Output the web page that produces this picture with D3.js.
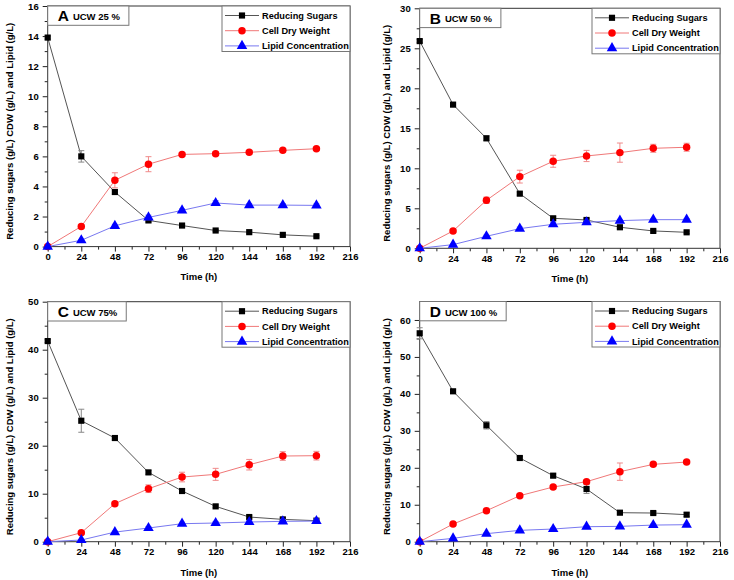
<!DOCTYPE html>
<html><head><meta charset="utf-8">
<script src="https://cdn.jsdelivr.net/npm/d3@7"></script>
<style>
body{margin:0;background:#fff}
text{font-family:"Liberation Sans",Arial,sans-serif;font-weight:bold;fill:#000}
</style>
</head><body>
<svg id="chart" width="734" height="580"></svg>
<script>
// ---------- data ----------
const times = [0, 24, 48, 72, 96, 120, 144, 168, 192];
const xTickValues = [0, 24, 48, 72, 96, 120, 144, 168, 192, 216];
const seriesNames = ["Reducing Sugars", "Cell Dry Weight", "Lipid Concentration"];
const panelLetters = ["A", "B", "C", "D"];
const panelTitles = ["UCW 25 %", "UCW 50 %", "UCW 75%", "UCW 100 %"];
const yMaxes = [16, 30, 50, 65];
const yTickSteps = [2, 5, 10, 10];
const yTickLast = [16, 30, 50, 60];
const yTitle = "Reducing sugars (g/L) CDW (g/L) and Lipid (g/L)";
const xTitle = "Time (h)";

const sugarsA = [13.9, 6.0, 3.63, 1.74, 1.40, 1.07, 0.96, 0.78, 0.69];
const sugarsErrA = [0.1, 0.38, 0.15, 0.1, 0.08, 0.06, 0.06, 0.05, 0.05];
const cdwA = [0, 1.34, 4.41, 5.48, 6.13, 6.18, 6.27, 6.40, 6.51];
const cdwErrA = [0, 0.1, 0.5, 0.5, 0.1, 0.1, 0.1, 0.1, 0.1];
const lipidA = [0, 0.42, 1.38, 1.94, 2.41, 2.90, 2.76, 2.76, 2.74];
const lipidErrA = [0, 0.05, 0.1, 0.15, 0.1, 0.15, 0.1, 0.1, 0.1];

const sugarsB = [25.9, 17.96, 13.75, 6.83, 3.75, 3.54, 2.63, 2.17, 2.0];
const sugarsErrB = [0.2, 0.2, 0.3, 0.2, 0.2, 0.2, 0.2, 0.15, 0.15];
const cdwB = [0, 2.17, 6.0, 8.96, 10.88, 11.54, 11.96, 12.5, 12.63];
const cdwErrB = [0, 0.2, 0.4, 0.8, 0.75, 0.7, 1.2, 0.5, 0.5];
const lipidB = [0, 0.46, 1.5, 2.46, 3.0, 3.25, 3.46, 3.58, 3.58];
const lipidErrB = [0, 0.1, 0.15, 0.2, 0.2, 0.2, 0.15, 0.15, 0.15];

const sugarsC = [41.8, 25.2, 21.6, 14.44, 10.56, 7.36, 5.14, 4.65, 4.38];
const sugarsErrC = [0.3, 2.4, 0.4, 0.4, 0.3, 0.3, 0.3, 0.3, 0.3];
const cdwC = [0, 1.88, 7.92, 11.04, 13.47, 14.03, 16.04, 17.85, 17.92];
const cdwErrC = [0, 0.2, 0.4, 0.8, 1.0, 1.25, 1.1, 0.9, 0.9];
const lipidC = [0, 0.35, 2.0, 2.85, 3.75, 3.89, 4.1, 4.24, 4.3];
const lipidErrC = [0, 0.1, 0.2, 0.3, 0.3, 0.3, 0.3, 0.4, 0.4];

const sugarsD = [56.4, 40.7, 31.5, 22.65, 17.87, 14.26, 7.85, 7.76, 7.31];
const sugarsErrD = [1.5, 0.5, 1.0, 0.4, 0.5, 1.2, 0.4, 0.4, 0.5];
const cdwD = [0, 4.78, 8.39, 12.45, 14.8, 16.24, 18.95, 20.93, 21.56];
const cdwErrD = [0, 0.3, 0.3, 0.3, 0.3, 0.4, 2.35, 0.4, 0.4];
const lipidD = [0, 0.9, 2.17, 3.07, 3.43, 4.06, 4.15, 4.5, 4.6];
const lipidErrD = [0, 0.2, 0.3, 0.3, 0.3, 0.3, 0.3, 0.3, 0.3];

const panelSeries = [
  [[sugarsA, sugarsErrA], [cdwA, cdwErrA], [lipidA, lipidErrA]],
  [[sugarsB, sugarsErrB], [cdwB, cdwErrB], [lipidB, lipidErrB]],
  [[sugarsC, sugarsErrC], [cdwC, cdwErrC], [lipidC, lipidErrC]],
  [[sugarsD, sugarsErrD], [cdwD, cdwErrD], [lipidD, lipidErrD]]
];

// ---------- styles / layout ----------
const markerFill = ["#000000", "#ff0000", "#0000ff"];
const lineColor = ["#555555", "#f07878", "#7878f0"];
const errColor = ["#888888", "#f08a8a", "#8a8af0"];
const symbols = [d3.symbolSquare, d3.symbolCircle, d3.symbolTriangle];
const symbolSizes = [38, 44, 48];

const layout = [
  {l: 47.7, t: 6, r: 350, b: 246.6, ytx: 10},
  {l: 419.7, t: 8.3, r: 720, b: 248.3, ytx: 387},
  {l: 47.7, t: 301.7, r: 350, b: 541.7, ytx: 10},
  {l: 419.7, t: 301.5, r: 720, b: 541.7, ytx: 387}
];

const FS = 9.5;
const LFS = 9.2;
const svg = d3.select("#chart");

layout.forEach((L, p) => {
  const g = svg.append("g");
  const x = d3.scaleLinear().domain([0, 216]).range([L.l, L.r]);
  const y = d3.scaleLinear().domain([0, yMaxes[p]]).range([L.b, L.t]);

  const xMinor = xTickValues.slice(0, -1).map(v => v + 12);
  const yMajor = d3.range(0, yTickLast[p] + 0.001, yTickSteps[p]);
  const yMinor = d3.range(yTickSteps[p] / 2, yMaxes[p], yTickSteps[p]);

  g.append("g").attr("transform", `translate(0,${L.b})`)
    .call(d3.axisBottom(x).tickValues(xTickValues).tickSize(5).tickPadding(2).tickSizeOuter(0));
  g.append("g").attr("transform", `translate(0,${L.b})`)
    .call(d3.axisBottom(x).tickValues(xMinor).tickSize(3).tickFormat("").tickSizeOuter(0));
  g.append("g").attr("transform", `translate(${L.l},0)`)
    .call(d3.axisLeft(y).tickValues(yMajor).tickSize(5).tickPadding(4).tickSizeOuter(0));
  g.append("g").attr("transform", `translate(${L.l},0)`)
    .call(d3.axisLeft(y).tickValues(yMinor).tickSize(3).tickFormat("").tickSizeOuter(0));
  g.selectAll(".domain").remove();
  g.selectAll(".tick line").attr("stroke", "#222");
  g.selectAll(".tick text").attr("font-size", FS).attr("font-family", null).attr("fill", "#000");

  // frame
  g.append("rect").attr("x", L.l).attr("y", L.t).attr("width", L.r - L.l).attr("height", L.b - L.t)
    .attr("fill", "none").attr("stroke", "#333").attr("stroke-width", 1);

  // series
  panelSeries[p].forEach((s, k) => {
    const vals = s[0], errs = s[1];
    const pts = times.map((t, i) => ({t, v: vals[i], e: errs[i]}));
    g.append("path").datum(pts)
      .attr("d", d3.line().x(d => x(d.t)).y(d => y(d.v)))
      .attr("fill", "none").attr("stroke", lineColor[k]).attr("stroke-width", 1);
    const eb = g.append("g").attr("stroke", errColor[k]).attr("stroke-width", 1);
    pts.filter(d => d.e > 0).forEach(d => {
      const cx = x(d.t), y1 = y(d.v + d.e), y2 = y(Math.max(0, d.v - d.e));
      eb.append("line").attr("x1", cx).attr("x2", cx).attr("y1", y1).attr("y2", y2);
      eb.append("line").attr("x1", cx - 3).attr("x2", cx + 3).attr("y1", y1).attr("y2", y1);
      eb.append("line").attr("x1", cx - 3).attr("x2", cx + 3).attr("y1", y2).attr("y2", y2);
    });
    g.append("g").selectAll("path").data(pts).join("path")
      .attr("transform", d => `translate(${x(d.t)},${y(d.v)})`)
      .attr("d", d3.symbol().type(symbols[k]).size(symbolSizes[k]))
      .attr("fill", markerFill[k]);
  });

  // panel label box
  const lb = g.append("g");
  const lbRect = lb.append("rect").attr("x", L.l).attr("y", L.t).attr("height", 19.3)
    .attr("fill", "#fff").attr("stroke", "#777").attr("stroke-width", 1);
  const letter = lb.append("text").attr("x", L.l + 10).attr("y", L.t + 15.3)
    .attr("font-size", 15.5).text(panelLetters[p]);
  const lw = letter.node().getComputedTextLength();
  const title = lb.append("text").attr("x", L.l + 10 + lw + 4).attr("y", L.t + 14)
    .attr("font-size", FS).text(panelTitles[p]);
  const tw = title.node().getComputedTextLength();
  lbRect.attr("width", 10 + lw + 4 + tw + 9);

  // legend
  const lgW = 128, lgH = 45.5;
  const lgX = L.r - lgW, lgY = L.t;
  const lg = g.append("g");
  lg.append("rect").attr("x", lgX).attr("y", lgY).attr("width", lgW).attr("height", lgH)
    .attr("fill", "#fff").attr("stroke", "#777").attr("stroke-width", 1);
  seriesNames.forEach((name, k) => {
    const cy = lgY + 9.5 + k * 15.2;
    lg.append("line").attr("x1", lgX + 3).attr("x2", lgX + 37).attr("y1", cy).attr("y2", cy)
      .attr("stroke", lineColor[k]).attr("stroke-width", 1);
    lg.append("path").attr("transform", `translate(${lgX + 20},${cy})`)
      .attr("d", d3.symbol().type(symbols[k]).size(symbolSizes[k])).attr("fill", markerFill[k]);
    lg.append("text").attr("x", lgX + 40).attr("y", cy).attr("dy", "0.35em")
      .attr("font-size", LFS).text(name);
  });

  // axis titles
  g.append("text").attr("x", (L.l + L.r) / 2).attr("y", L.b + 30.5).attr("dy", "0.35em")
    .attr("text-anchor", "middle").attr("font-size", FS).text(xTitle);
  const yc = (L.t + L.b) / 2 + 5;
  g.append("text").attr("transform", `translate(${L.ytx},${yc}) rotate(-90)`).attr("dy", "0.35em")
    .attr("text-anchor", "middle").attr("font-size", FS).text(yTitle);
});
</script>
</body></html>
